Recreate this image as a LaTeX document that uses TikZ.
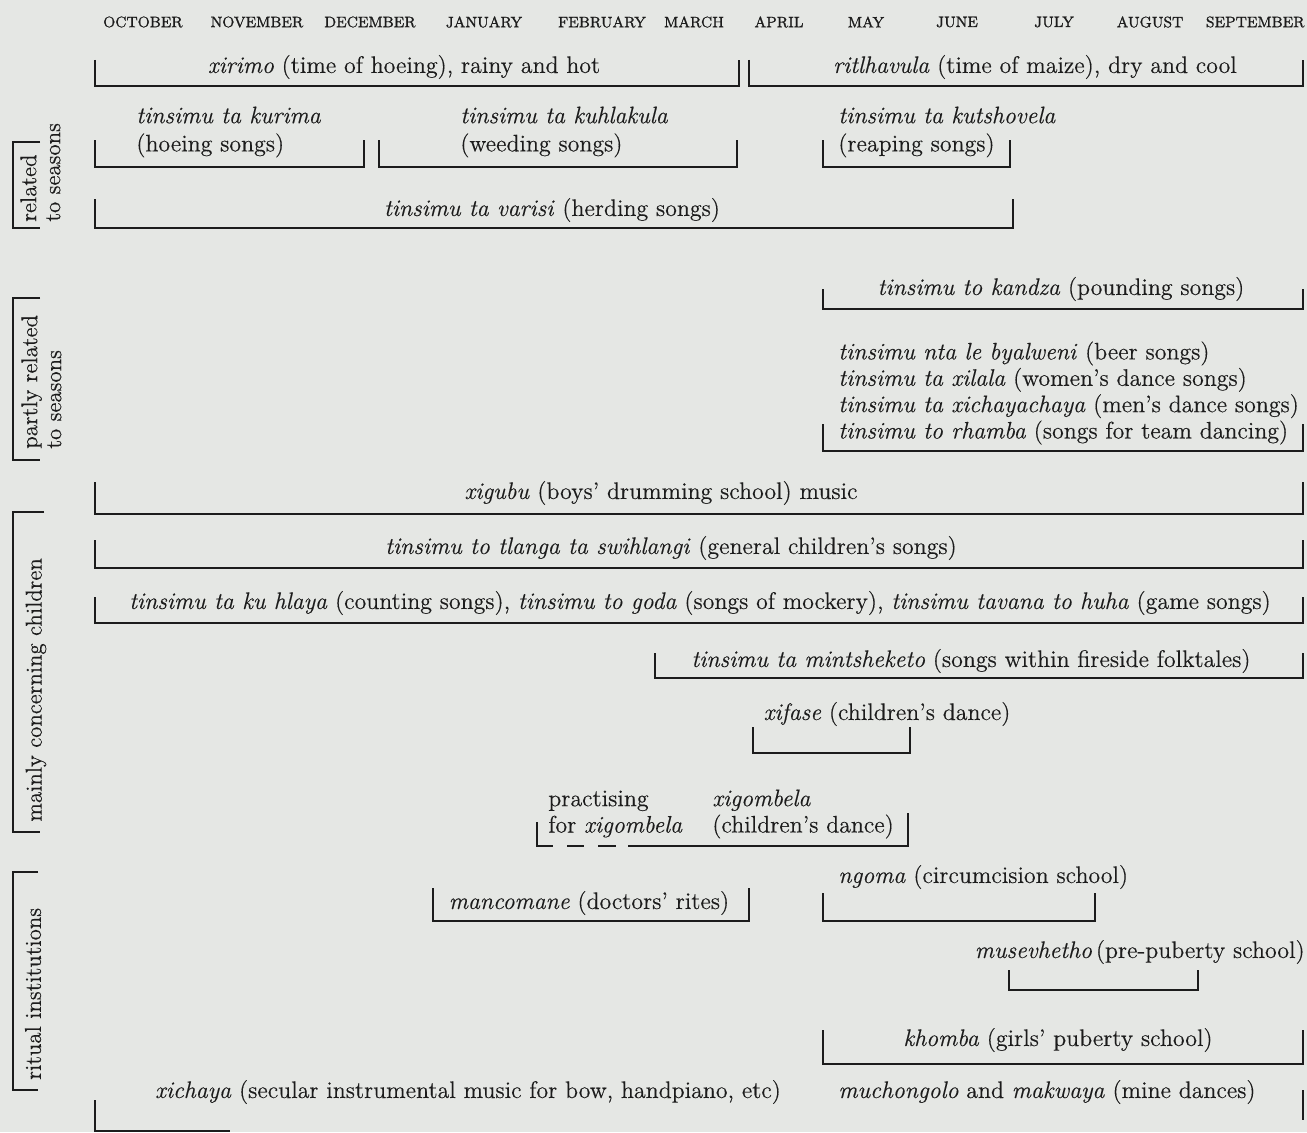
\documentclass[tikz,border=0pt]{standalone}
\usepackage{fontspec}
\setmainfont{Latin Modern Roman}[FakeBold=0.35]
\usepackage{tikz}
\usetikzlibrary{positioning}
\definecolor{paper}{RGB}{229,231,228}
\definecolor{ink}{RGB}{28,28,28}
\newcommand\spanbar[4]{\draw[bar] (#1,#3) |- (#2,#4) -- (#2,#3);}
\begin{document}
\begin{tikzpicture}[x=0.02cm,y=-0.02cm,
month/.style={text=ink,font=\fontsize{8.6}{9}\selectfont\addfontfeature{FakeBold=1.3},inner sep=0pt},
lbl/.style={text=ink,font=\fontsize{13.6}{15}\selectfont,inner sep=0pt},
side/.style={text=ink,font=\fontsize{13}{13.6}\selectfont,inner sep=0pt,rotate=90,align=left},
bar/.style={draw=ink,line width=1.1pt}]
\useasboundingbox (0,0) rectangle (1307,1132);
\fill[paper] (0,0) rectangle (1307,1132);
\node[month](oct) at (143,22){OCTOBER};
\node[month](nov) at (257,22){NOVEMBER};
\node[month](dec) at (370,22){DECEMBER};
\node[month](jan) at (484,22){JANUARY};
\node[month](feb) at (602,22){FEBRUARY};
\node[month](mar) at (694,22){MARCH};
\node[month](apr) at (779,22){APRIL};
\node[month](may) at (866,22){MAY};
\node[month](jun) at (957,22){JUNE};
\node[month](jul) at (1054,22){JULY};
\node[month](aug) at (1150,22){AUGUST};
\node[month,anchor=east](sep) at (1305,22){SEPTEMBER};
\node[side,anchor=north west](related) at (20,222){related\\to seasons};
\node[side,anchor=north west](partly) at (21,449){partly related\\to seasons};
\node[side,anchor=west](mainly) at (36,822){mainly concerning children};
\node[side,anchor=west](ritual) at (33,1080){ritual institutions};
\draw[bar](40,142) -| (13,228) -- (40,228);
\draw[bar](40,298) -| (13,460) -- (40,460);
\draw[bar](44,512) -| (13,832) -- (40,832);
\draw[bar](38,872) -| (13,1090) -- (38,1090);
\node[lbl](xirimo) at (404,67){\textit{xirimo} (time of hoeing), rainy and hot};
\node[lbl](ritlhavula) at (1035,67){\textit{ritlhavula} (time of maize), dry and cool};
\spanbar{95}{739}{60}{86}\spanbar{749}{1303}{60}{86}
\node[lbl,align=left,anchor=west](kurima) at (136,132){\textit{tinsimu ta kurima}\\[1pt](hoeing songs)};
\node[lbl,align=left,anchor=west](kuhlakula) at (460,132){\textit{tinsimu ta kuhlakula}\\[1pt](weeding songs)};
\node[lbl,align=left,anchor=west](kutshovela) at (838,132){\textit{tinsimu ta kutshovela}\\[1pt](reaping songs)};
\spanbar{95}{364}{140}{167}\spanbar{379}{737}{140}{167}\spanbar{823}{1010}{140}{167}
\node[lbl](varisi) at (552,210){\textit{tinsimu ta varisi} (herding songs)};
\spanbar{95}{1013}{199}{228}
\node[lbl](kandza) at (1061,289){\textit{tinsimu to kandza} (pounding songs)};
\spanbar{823}{1303}{289}{309}
\node[lbl,align=left,anchor=west](byalweni) at (838,393){\textit{tinsimu nta le byalweni} (beer songs)\\\textit{tinsimu ta xilala} (women's dance songs)\\\textit{tinsimu ta xichayachaya} (men's dance songs)\\\textit{tinsimu to rhamba} (songs for team dancing)};
\spanbar{823}{1303}{424}{451}
\node[lbl](xigubu) at (661,493){\textit{xigubu} (boys' drumming school) music};
\spanbar{95}{1303}{482}{514}
\node[lbl](tlanga) at (671,548){\textit{tinsimu to tlanga ta swihlangi} (general children's songs)};
\spanbar{95}{1303}{540}{568}
\node[lbl](hlaya) at (700,603){\textit{tinsimu ta ku hlaya} (counting songs), \textit{tinsimu to goda} (songs of mockery), \textit{tinsimu tavana to huha} (game songs)};
\spanbar{95}{1303}{597}{623}
\node[lbl](mintsheketo) at (971,661){\textit{tinsimu ta mintsheketo} (songs within fireside folktales)};
\spanbar{655}{1303}{653}{678}
\node[lbl](xifase) at (887,714){\textit{xifase} (children's dance)};
\spanbar{753}{910}{727}{753}
\node[lbl,align=left,anchor=west](practising) at (548,814){practising\\for \textit{xigombela}};
\node[lbl,align=left,anchor=west](xigombela) at (712,814){\textit{xigombela}\\(children's dance)};
\draw[bar](537,822) |- (553,846);
\draw[bar](567,846) -- (584,846);
\draw[bar](598,846) -- (616,846);
\draw[bar](628,846) -- (908,846) -- (908,813);
\node[lbl](mancomane) at (589,903){\textit{mancomane} (doctors' rites)};
\spanbar{433}{749}{888}{921}
\node[lbl,anchor=west](ngoma) at (838,877){\textit{ngoma} (circumcision school)};
\spanbar{823}{1095}{893}{921}
\node[lbl,anchor=east](musevhetho) at (1305,952){\textit{musevhetho}\,(pre-puberty school)};
\spanbar{1009}{1198}{970}{990}
\node[lbl](khomba) at (1058,1040){\textit{khomba} (girls' puberty school)};
\spanbar{823}{1303}{1030}{1064}
\node[lbl](xichaya) at (468,1092){\textit{xichaya} (secular instrumental music for bow, handpiano, etc)};
\node[lbl](muchongolo) at (1047,1092){\textit{muchongolo} and \textit{makwaya} (mine dances)};
\draw[bar](95,1100) -- (95,1131) -- (230,1131);
\draw[bar](1303,1090) -- (1303,1120);
\end{tikzpicture}
\end{document}
